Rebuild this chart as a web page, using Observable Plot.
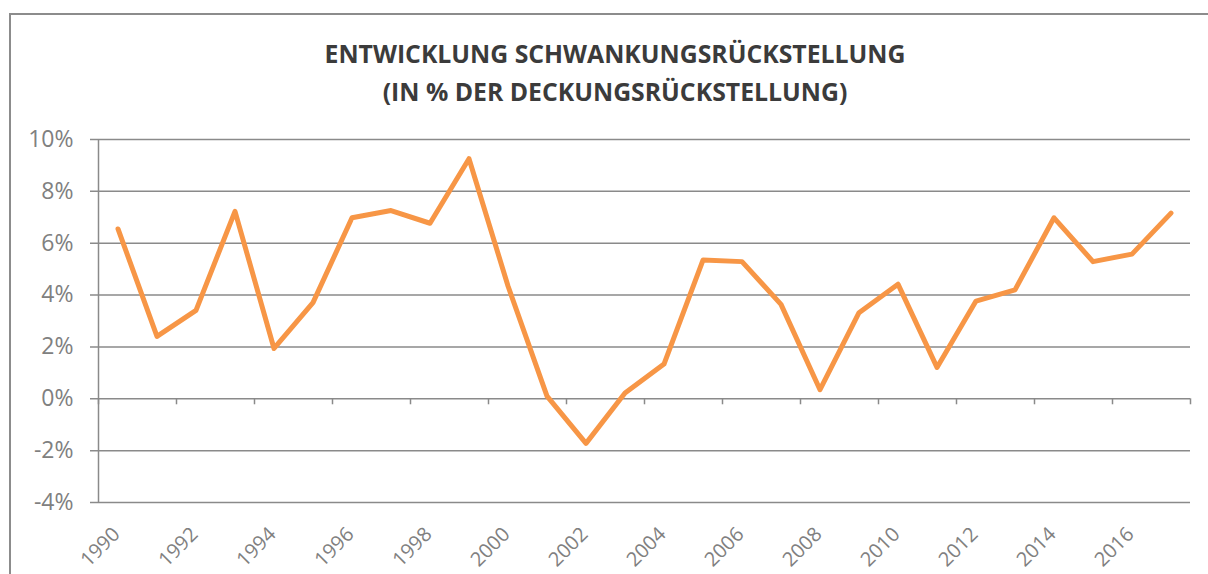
<!DOCTYPE html>
<html>
<head>
<meta charset="utf-8">
<script src="https://cdn.jsdelivr.net/npm/d3@7"></script>
<script src="https://cdn.jsdelivr.net/npm/@observablehq/plot@0.6"></script>
<style>
  html, body { margin: 0; padding: 0; background: #ffffff; }
  #wrap { position: relative; width: 1208px; height: 574px; overflow: hidden; background: #ffffff; }
  #frame { position: absolute; left: 9px; top: 13px; width: 1300px; height: 700px;
           border-left: 2px solid #8c8c8c; border-top: 2px solid #8c8c8c; }
  #chart { position: absolute; left: 0; top: 0; }
  .title { position: absolute; left: 0; width: 1230px; text-align: center;
           font-family: "Open Sans", sans-serif; font-weight: 700; font-size: 24.8px;
           line-height: 38px; color: #3b3b3b; white-space: nowrap; }
</style>
</head>
<body>
<div id="wrap">
  <div id="frame"></div>
  <div id="chart"></div>
  <div class="title" style="top:34px">ENTWICKLUNG SCHWANKUNGSRÜCKSTELLUNG</div>
  <div class="title" style="top:72px">(IN % DER DECKUNGSRÜCKSTELLUNG)</div>
</div>
<script>
// Data (percent of Deckungsrückstellung)
const years = [1990, 1991, 1992, 1993, 1994, 1995, 1996, 1997, 1998, 1999,
               2000, 2001, 2002, 2003, 2004, 2005, 2006, 2007, 2008, 2009,
               2010, 2011, 2012, 2013, 2014, 2015, 2016, 2017];
const values = [6.55, 2.41, 3.41, 7.23, 1.94, 3.71, 6.98, 7.26, 6.77, 9.26,
                4.35, 0.10, -1.72, 0.22, 1.34, 5.35, 5.29, 3.64, 0.35, 3.32,
                4.42, 1.21, 3.77, 4.20, 6.98, 5.29, 5.58, 7.16];
const yTicks = [-4, -2, 0, 2, 4, 6, 8, 10];
const xLabels = [1990, 1992, 1994, 1996, 1998, 2000, 2002, 2004, 2006, 2008, 2010, 2012, 2014, 2016];

const data = years.map((year, i) => ({year, value: values[i]}));
const first = years[0] - 0.5;
const last = years[years.length - 1] + 0.5;
const bounds = [...xLabels.map(d => d - 0.5), last];

const gridColor = "#8a8a8a";
const textColor = "#808080";

const chart = Plot.plot({
  width: 1208,
  height: 574,
  marginLeft: 98,
  marginRight: 18,
  marginTop: 139,
  marginBottom: 72,
  style: {fontFamily: "'Open Sans', sans-serif", fontSize: "22px", color: textColor, background: "transparent"},
  x: {type: "linear", domain: [first, last], axis: null},
  y: {domain: [-4, 10], axis: null},
  marks: [
    Plot.ruleY(yTicks, {y: d => d, stroke: gridColor, strokeWidth: 1.5, insetLeft: -8}),
    Plot.ruleX([first], {x: d => d, stroke: gridColor, strokeWidth: 1.5}),
    Plot.ruleX(bounds, {x: d => d, y1: 0, y2: 0, insetBottom: -6, stroke: gridColor, strokeWidth: 1.5}),
    Plot.axisY(yTicks, {label: null, tickSize: 0, tickPadding: 25, tickFormat: d => d + "%", fill: textColor, fontSize: 23}),
    Plot.text(xLabels, {x: d => d, frameAnchor: "bottom", text: d => String(d), rotate: -45,
                        textAnchor: "end", dx: 3, dy: 33, fill: textColor, fontSize: 20}),
    Plot.line(data, {x: "year", y: "value", stroke: "#f79646", strokeWidth: 5,
                     strokeLinecap: "round", strokeLinejoin: "round"})
  ]
});
document.getElementById("chart").appendChild(chart);
</script>
</body>
</html>
